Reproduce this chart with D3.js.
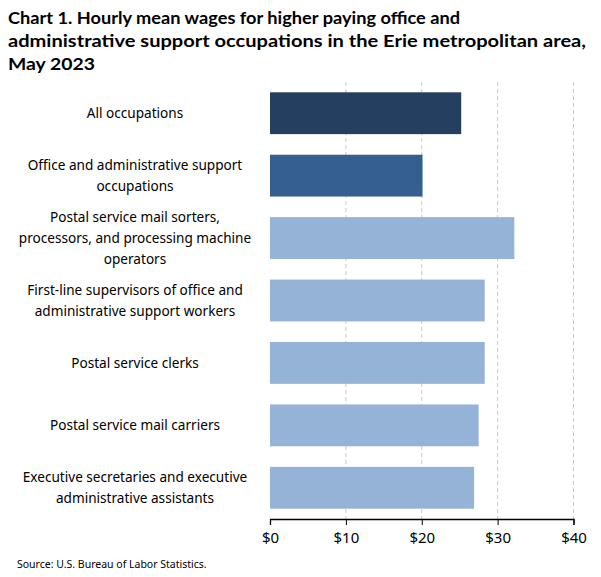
<!DOCTYPE html>
<html><head><meta charset="utf-8">
<script src="https://cdn.jsdelivr.net/npm/d3@7"></script>
<style>body{margin:0;background:#fff}text{font-family:"Noto Sans",sans-serif}</style>
</head><body><svg id="c" width="601" height="577"></svg>
<script>
const categories = [
 ["All occupations"],
 ["Office and administrative support","occupations"],
 ["Postal service mail sorters,","processors, and processing machine","operators"],
 ["First-line supervisors of office and","administrative support workers"],
 ["Postal service clerks"],
 ["Postal service mail carriers"],
 ["Executive secretaries and executive","administrative assistants"]
];
const values = [25.2, 20.1, 32.2, 28.3, 28.3, 27.5, 26.9];
const colors = ["#243f60","#345f8f","#95b3d7","#95b3d7","#95b3d7","#95b3d7","#95b3d7"];
const ticks = [0,10,20,30,40];
const title = ["Chart 1. Hourly mean wages for higher paying office and","administrative support occupations in the Erie metropolitan area,","May 2023"];
const titleWidths = [452, 578, 87];

const svg = d3.select("#c");
const x = d3.scaleLinear().domain([0,40]).range([270,573.5]);
const y = d3.scaleBand().domain(d3.range(categories.length)).range([82,519]).paddingInner(0.33).paddingOuter(0.165);

svg.append("g").selectAll("text").data(title).join("text")
 .attr("x",8).attr("y",(d,i)=>24+i*23).attr("font-size",17.5).attr("font-weight","bold")
 .style("font-family","Lato,sans-serif").attr("fill","#000")
 .attr("textLength",(d,i)=>titleWidths[i]).attr("lengthAdjust","spacingAndGlyphs").text(d=>d);

svg.append("g").selectAll("line").data(ticks.slice(1)).join("line")
 .attr("x1",d=>x(d)).attr("x2",d=>x(d)).attr("y1",82).attr("y2",519)
 .attr("stroke","#c8c8c8").attr("stroke-dasharray","4,3");

svg.append("g").selectAll("rect").data(values).join("rect")
 .attr("x",x(0)).attr("y",(d,i)=>y(i)).attr("width",d=>x(d)-x(0)).attr("height",y.bandwidth())
 .attr("fill",(d,i)=>colors[i]);

const ax = svg.append("g").attr("transform","translate(0,519)")
 .call(d3.axisBottom(x).tickValues(ticks).tickSize(6).tickFormat(d=>"$"+d));
ax.select(".domain").attr("stroke","#000").attr("stroke-width",1.3);
ax.selectAll(".tick line").attr("stroke","#000");
ax.selectAll("text").attr("font-size",15).attr("fill","#000").attr("dy","1.0em").style("font-family","Noto Sans,sans-serif");

const lab = svg.append("g");
categories.forEach((lines,i)=>{
 const cy = y(i)+y.bandwidth()/2;
 const t = lab.append("text").attr("text-anchor","middle").attr("font-size",13.6).attr("fill","#000");
 lines.forEach((l,j)=>t.append("tspan").attr("x",135).attr("y",cy+5+(j-(lines.length-1)/2)*21).text(l));
});

svg.append("text").attr("x",17).attr("y",568).attr("font-size",10.5).attr("fill","#000").text("Source: U.S. Bureau of Labor Statistics.");
</script></body></html>
